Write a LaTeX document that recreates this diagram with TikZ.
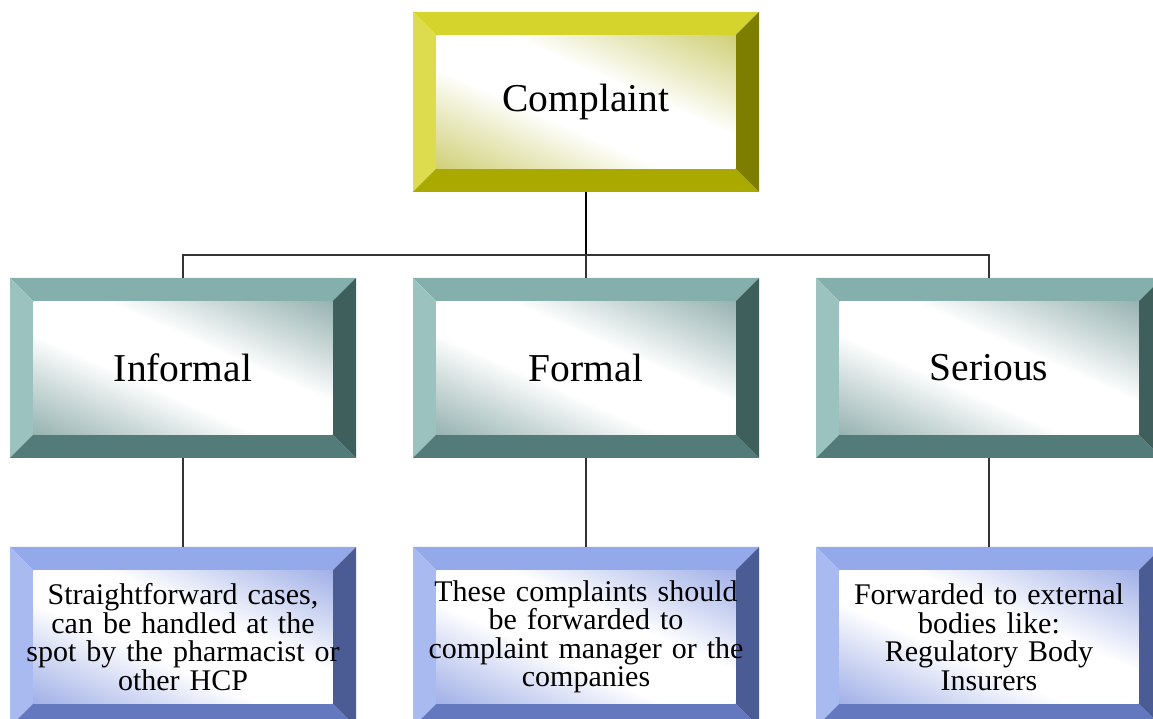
\documentclass[tikz,border=0pt]{standalone}
\usepackage{fontspec}
\setmainfont{Liberation Serif}

\definecolor{yTop}{HTML}{D4D42C}
\definecolor{yLeft}{HTML}{DCDC4E}
\definecolor{yBot}{HTML}{A9A900}
\definecolor{yRight}{HTML}{7D7D00}
\definecolor{yMid}{HTML}{C2C250}
\definecolor{tTop}{HTML}{84AFAD}
\definecolor{tLeft}{HTML}{9CC2C0}
\definecolor{tBot}{HTML}{527B79}
\definecolor{tRight}{HTML}{3F5F5D}
\definecolor{tMid}{HTML}{779C9A}
\definecolor{bTop}{HTML}{93A9EA}
\definecolor{bLeft}{HTML}{A8BAF0}
\definecolor{bBot}{HTML}{6478C0}
\definecolor{bRight}{HTML}{4B5B94}
\definecolor{bMid}{HTML}{8599E0}
\colorlet{bvc}{tMid}

% white band across the face, tinted corners
\pgfdeclarehorizontalshading[bvc]{bvface}{100bp}{color(0bp)=(bvc); color(14bp)=(bvc!85!white);
  color(31bp)=(bvc!35!white); color(42bp)=(white); color(58bp)=(white);
  color(69bp)=(bvc!35!white); color(86bp)=(bvc!85!white); color(100bp)=(bvc)}

\tikzset{
  bv/.style n args={5}{rectangle, minimum width=346pt, minimum height=180pt,
    inner sep=0pt, text width=340pt, align=center,
    path picture={
      \coordinate (sw) at (path picture bounding box.south west);
      \coordinate (ne) at (path picture bounding box.north east);
      \coordinate (nw) at (sw |- ne);
      \coordinate (se) at (ne |- sw);
      \fill[#1] (nw) -- (ne) -- ++(-23.5,-23.5) -| ([shift={(23.5,-23.5)}]nw) -- cycle;
      \fill[#2] (nw) -- (sw) -- ++(23.5,23.5) |- ([shift={(23.5,-23.5)}]nw) -- cycle;
      \fill[#3] (sw) -- (se) -- ++(-23.5,23.5) -| ([shift={(23.5,23.5)}]sw) -- cycle;
      \fill[#4] (ne) -- (se) -- ++(-23.5,23.5) |- ([shift={(-23.5,-23.5)}]ne) -- cycle;
      \colorlet{bvc}{#5}
      \shade[shading=bvface, shading angle=66]
        ([shift={(23.5,23.5)}]sw) rectangle ([shift={(-23.5,-23.5)}]ne);
    }},
  hd/.style={bv={yTop}{yLeft}{yBot}{yRight}{yMid}, font=\fontsize{39.5}{41}\selectfont},
  ct/.style={bv={tTop}{tLeft}{tBot}{tRight}{tMid}, font=\fontsize{39.5}{41}\selectfont},
  nt/.style={bv={bTop}{bLeft}{bBot}{bRight}{bMid}, font=\fontsize{30}{28.5}\selectfont},
  trunk/.style={draw=black, line width=2.4pt},
  link/.style={draw=black!80, line width=1.5pt}
}

\begin{document}
\begin{tikzpicture}[x=1pt, y=1pt]
\useasboundingbox (0,0) rectangle (1153,719);

\node (complaint) at (586,617) [hd] {Complaint};

\node (informal) at (183,351) [ct] {Informal};
\node (formal)   at (586,351) [ct] {Formal};
\node (serious)  at (989,351) [ct] {Serious};

\node (infnote) at (183,82) [nt] {Straightforward cases,\\can be handled at the\\spot by the pharmacist or\\other HCP};
\node (fornote) at (586,82) [nt] {These complaints should\\be forwarded to\\complaint manager or the\\companies};
\node (sernote) at (989,82) [nt] {Forwarded to external\\bodies like:\\Regulatory Body\\Insurers};

\coordinate (bar) at (586,464);
\draw [trunk] (complaint) -- (bar);
\draw [link] (bar) -| (informal);
\draw [link] (bar) -| (serious);
\draw [link] (bar) -- (formal);

\draw [link] (informal) -- (infnote);
\draw [link] (formal) -- (fornote);
\draw [link] (serious) -- (sernote);
\end{tikzpicture}
\end{document}
